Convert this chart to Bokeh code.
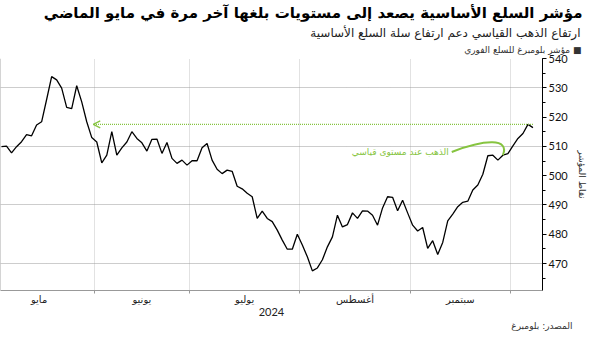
import math
from bokeh.plotting import figure
from bokeh.models import Range1d, FixedTicker, SingleIntervalTicker, Label, Arrow, OpenHead, Title
from bokeh.embed import file_html
from bokeh.resources import INLINE

# Bloomberg Commodity Spot Index, daily (trading days), early May -> early Oct 2024
values = [
    509.9, 510.1, 507.8, 509.9, 511.6, 514.0, 513.6, 517.3, 518.4, 526.0,
    533.8, 532.7, 529.9, 523.3, 522.9, 530.7, 525.2, 518.4, 513.0, 511.5,
    504.4, 507.0, 515.0, 507.0, 509.5, 511.5, 515.0, 512.7, 511.2, 508.4,
    512.4, 512.5, 507.6, 511.3, 505.9, 504.2, 505.3, 503.6, 505.1, 505.1,
    509.5, 511.0, 505.3, 502.2, 500.7, 501.9, 501.5, 496.4, 495.5, 494.0,
    492.8, 485.4, 487.9, 485.4, 484.3, 481.4, 478.0, 474.9, 474.9, 480.0,
    476.3, 472.3, 467.5, 468.5, 471.3, 475.7, 479.1, 486.5, 482.5, 483.3,
    487.3, 485.4, 488.0, 487.9, 486.5, 483.1, 489.0, 492.8, 492.6, 488.0,
    491.6, 487.3, 483.1, 481.1, 482.3, 475.2, 477.8, 473.1, 477.2, 484.6,
    486.9, 489.4, 490.9, 491.3, 495.1, 496.8, 500.5, 506.8, 507.0, 505.3,
    507.0, 507.5, 510.2, 512.7, 514.4, 517.5, 516.4,
]
day_index = list(range(len(values)))

month_names = ["مايو", "يونيو", "يوليو", "أغسطس", "سبتمبر"]
# index of first trading day of May, Jun, Jul, Aug, Sep, Oct
month_first_idx = [-3, 19, 38, 60, 82, 102]
year_text = "2024"

y_grid = [470, 490, 510, 530, 540]

title_text = "مؤشر السلع الأساسية يصعد إلى مستويات بلغها آخر مرة في مايو الماضي"
subtitle_text = "ارتفاع الذهب القياسي دعم ارتفاع سلة السلع الأساسية"
legend_text = "مؤشر بلومبرغ للسلع الفوري ■"
axis_text = "نقاط المؤشر"
note_text = "الذهب عند مستوى قياسي"
source_text = "المصدر: بلومبرغ"

record_idx = 105
gold_dip_idx = 100
arrow_tip_idx = 18.3

GREEN = "#86c440"
AR = "DejaVu Sans"
NUM = "Lato"

bounds = [m - 0.5 for m in month_first_idx]
centers = [(bounds[i] + bounds[i + 1]) / 2 for i in range(len(month_names))]

p = figure(width=589, height=331, output_backend="svg", toolbar_location=None,
           x_range=Range1d(-0.2, 107.9), y_range=Range1d(460.8, 540),
           y_axis_location="right", min_border_left=0, min_border_right=0,
           min_border_top=0, min_border_bottom=0)
p.outline_line_color = None
p.background_fill_color = "white"

# titles (first added is closest to the frame)
p.add_layout(Title(text=legend_text, align="right", offset=-39, standoff=7,
                   text_font=AR, text_font_size="9px", text_font_style="normal",
                   text_color="#333333"), "above")
p.add_layout(Title(text=subtitle_text, align="right", offset=-38, standoff=0,
                   text_font=AR, text_font_size="12px", text_font_style="normal",
                   text_color="#222222"), "above")
p.add_layout(Title(text=title_text, align="right", offset=-40, standoff=3,
                   text_font=AR, text_font_size="15px", text_font_style="bold",
                   text_color="black"), "above")
p.add_layout(Title(text=source_text, align="right", offset=-30, standoff=1,
                   text_font=AR, text_font_size="9px", text_font_style="normal",
                   text_color="#333333"), "below")

# grids
p.xgrid.ticker = FixedTicker(ticks=bounds[1:])
p.xgrid.grid_line_color = "#c4c4c4"
p.xgrid.grid_line_dash = "1 1"
p.ygrid.ticker = FixedTicker(ticks=y_grid)
p.ygrid.grid_line_color = "#9a9a9a"
p.ygrid.grid_line_dash = "1 1"

# x axis
xa = p.xaxis[0]
xa.ticker = FixedTicker(ticks=centers, minor_ticks=bounds[1:])
xa.major_label_overrides = {c: n for c, n in zip(centers, month_names)}
xa.major_tick_line_color = None
xa.major_tick_out = 0
xa.major_tick_in = 0
xa.minor_tick_line_color = "#999999"
xa.minor_tick_out = 3
xa.minor_tick_in = 0
xa.axis_line_color = "#999999"
xa.major_label_text_font = AR
xa.major_label_text_font_size = "10px"
xa.major_label_text_color = "#222222"
xa.major_label_standoff = 0
xa.axis_label = year_text
xa.axis_label_text_font = NUM
xa.axis_label_text_font_size = "11px"
xa.axis_label_text_font_style = "normal"
xa.axis_label_text_color = "#222222"
xa.axis_label_standoff = 0

# y axis
ya = p.yaxis[0]
ya.ticker = SingleIntervalTicker(interval=10, num_minor_ticks=2)
ya.axis_line_color = "black"
ya.major_tick_line_color = "black"
ya.minor_tick_line_color = "black"
ya.major_tick_out = 4
ya.major_tick_in = 0
ya.minor_tick_out = 3
ya.minor_tick_in = 0
ya.major_label_text_font = NUM
ya.major_label_text_font_size = "11px"
ya.major_label_text_color = "#111111"
ya.major_label_standoff = 2
ya.axis_label = axis_text
ya.axis_label_text_font = AR
ya.axis_label_text_font_size = "9px"
ya.axis_label_text_font_style = "normal"
ya.axis_label_text_color = "#333333"
ya.axis_label_standoff = 6

# left border
p.line(x=[-0.2, -0.2], y=[460.8, 540], line_color="#aaaaaa", line_width=1)

# series
p.line(x=day_index, y=values, line_color="black", line_width=1.3)

# record arrow
rec = values[record_idx]
p.add_layout(Arrow(end=OpenHead(size=7, line_color=GREEN, line_width=1.2),
                   x_start=len(values) - 1, y_start=rec, x_end=arrow_tip_idx, y_end=rec,
                   line_color=GREEN, line_width=1.2, line_dash="1 1"))

# callout
gx, gy = gold_dip_idx, values[gold_dip_idx]
p.bezier(x0=[89.8], y0=[508.1], x1=[gx], y1=[gy], cx0=[96.4], cy0=[512.4],
         cx1=[101.4], cy1=[512.9], line_color=GREEN, line_width=2)
p.add_layout(Label(x=89.2, y=508.1, text=note_text, text_align="right",
                   text_baseline="middle", text_font=AR, text_font_size="9px",
                   text_color=GREEN))

open("out.html", "w").write(file_html(p, INLINE))
